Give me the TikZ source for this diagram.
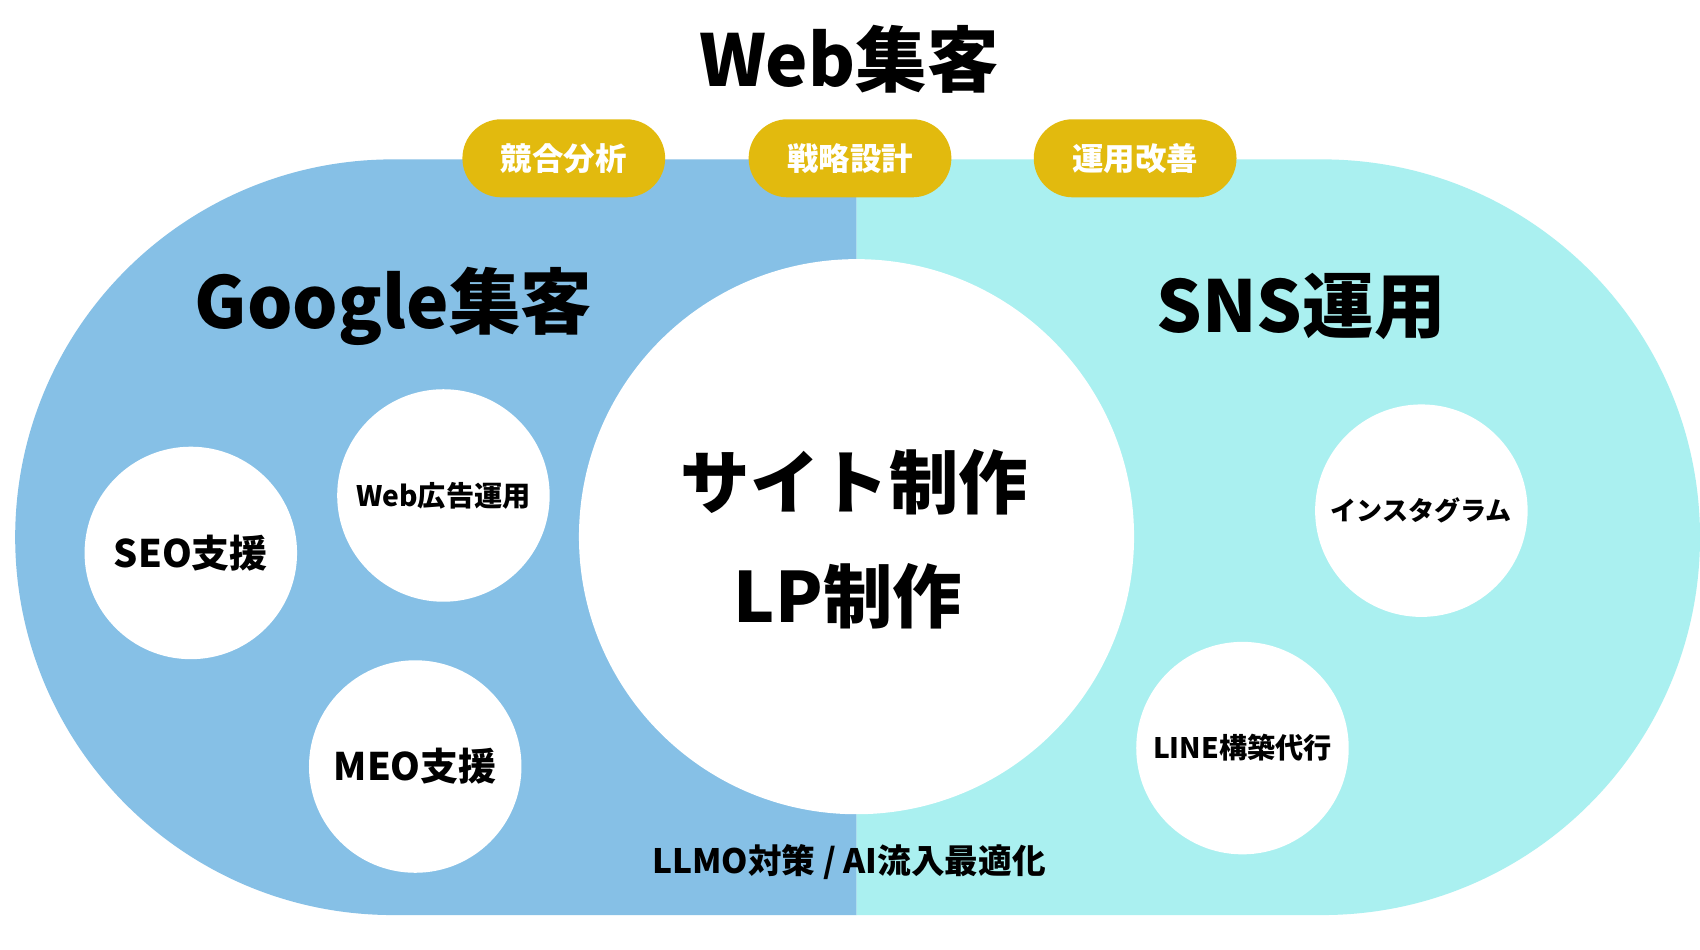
\documentclass[tikz,border=0pt]{standalone}
\usepackage{fontspec}
\setmainfont{Noto Sans CJK JP}
\usetikzlibrary{shapes.misc}
\definecolor{googleblue}{HTML}{86C0E6}
\definecolor{snscyan}{HTML}{AAF0F0}
\definecolor{pillgold}{HTML}{E2BA0E}
\tikzset{
  pill/.style={rounded rectangle, fill=pillgold, text=white, minimum width=187pt, minimum height=72pt, inner sep=0pt, font=\bfseries\fontsize{29}{32}\selectfont},
  bubble/.style={circle, fill=white, minimum size=196pt, inner sep=0pt, align=center},
  heading/.style={font=\bfseries\fontsize{66}{70}\selectfont}
}
\begin{document}
\begin{tikzpicture}[x=1pt, y=-1pt]
\useasboundingbox[fill=white] (0,0) rectangle (1568,876);
% the two halves of the track
\fill[googleblue] (790,147) -- (362.5,147) arc[start angle=90, end angle=270, radius=348.5pt] -- (790,844) -- cycle;
\fill[snscyan] (790,147) -- (1219.5,147) arc[start angle=90, end angle=-90, radius=348.5pt] -- (790,844) -- cycle;
\path (783, 55) node[heading] (title) {Web集客};
\path (520, 146) node[pill] (analysis) {競合分析};
\path (784, 146) node[pill] (strategy) {戦略設計};
\path (1047, 146) node[pill] (improve) {運用改善};
\path (363, 283) node[heading] (google) {Google集客};
\path (1200, 283) node[heading] (sns) {SNS運用};
\path (790, 495) node[circle, fill=white, minimum size=512pt, inner sep=0pt] (site) {};
\path (788, 445) node[font=\bfseries\fontsize{64}{70}\selectfont] (sitetext) {サイト制作};
\path (782, 550) node[font=\bfseries\fontsize{64}{70}\selectfont] (lptext) {LP制作};
\path (176, 510) node[bubble, font=\bfseries\fontsize{35}{38}\selectfont] (seo) {SEO支援};
\path (409, 457) node[bubble, font=\bfseries\fontsize{26}{30}\selectfont] (webad) {Web広告運用};
\path (383, 707) node[bubble, font=\bfseries\fontsize{35}{38}\selectfont] (meo) {MEO支援};
\path (1311, 471) node[bubble, font=\bfseries\fontsize{24}{28}\selectfont] (insta) {インスタグラム};
\path (1146, 690) node[bubble, font=\bfseries\fontsize{26}{30}\selectfont] (line) {LINE構築代行};
\path (783, 795) node[font=\bfseries\fontsize{31}{36}\selectfont] (llmo) {LLMO対策 / AI流入最適化};
\end{tikzpicture}
\end{document}
